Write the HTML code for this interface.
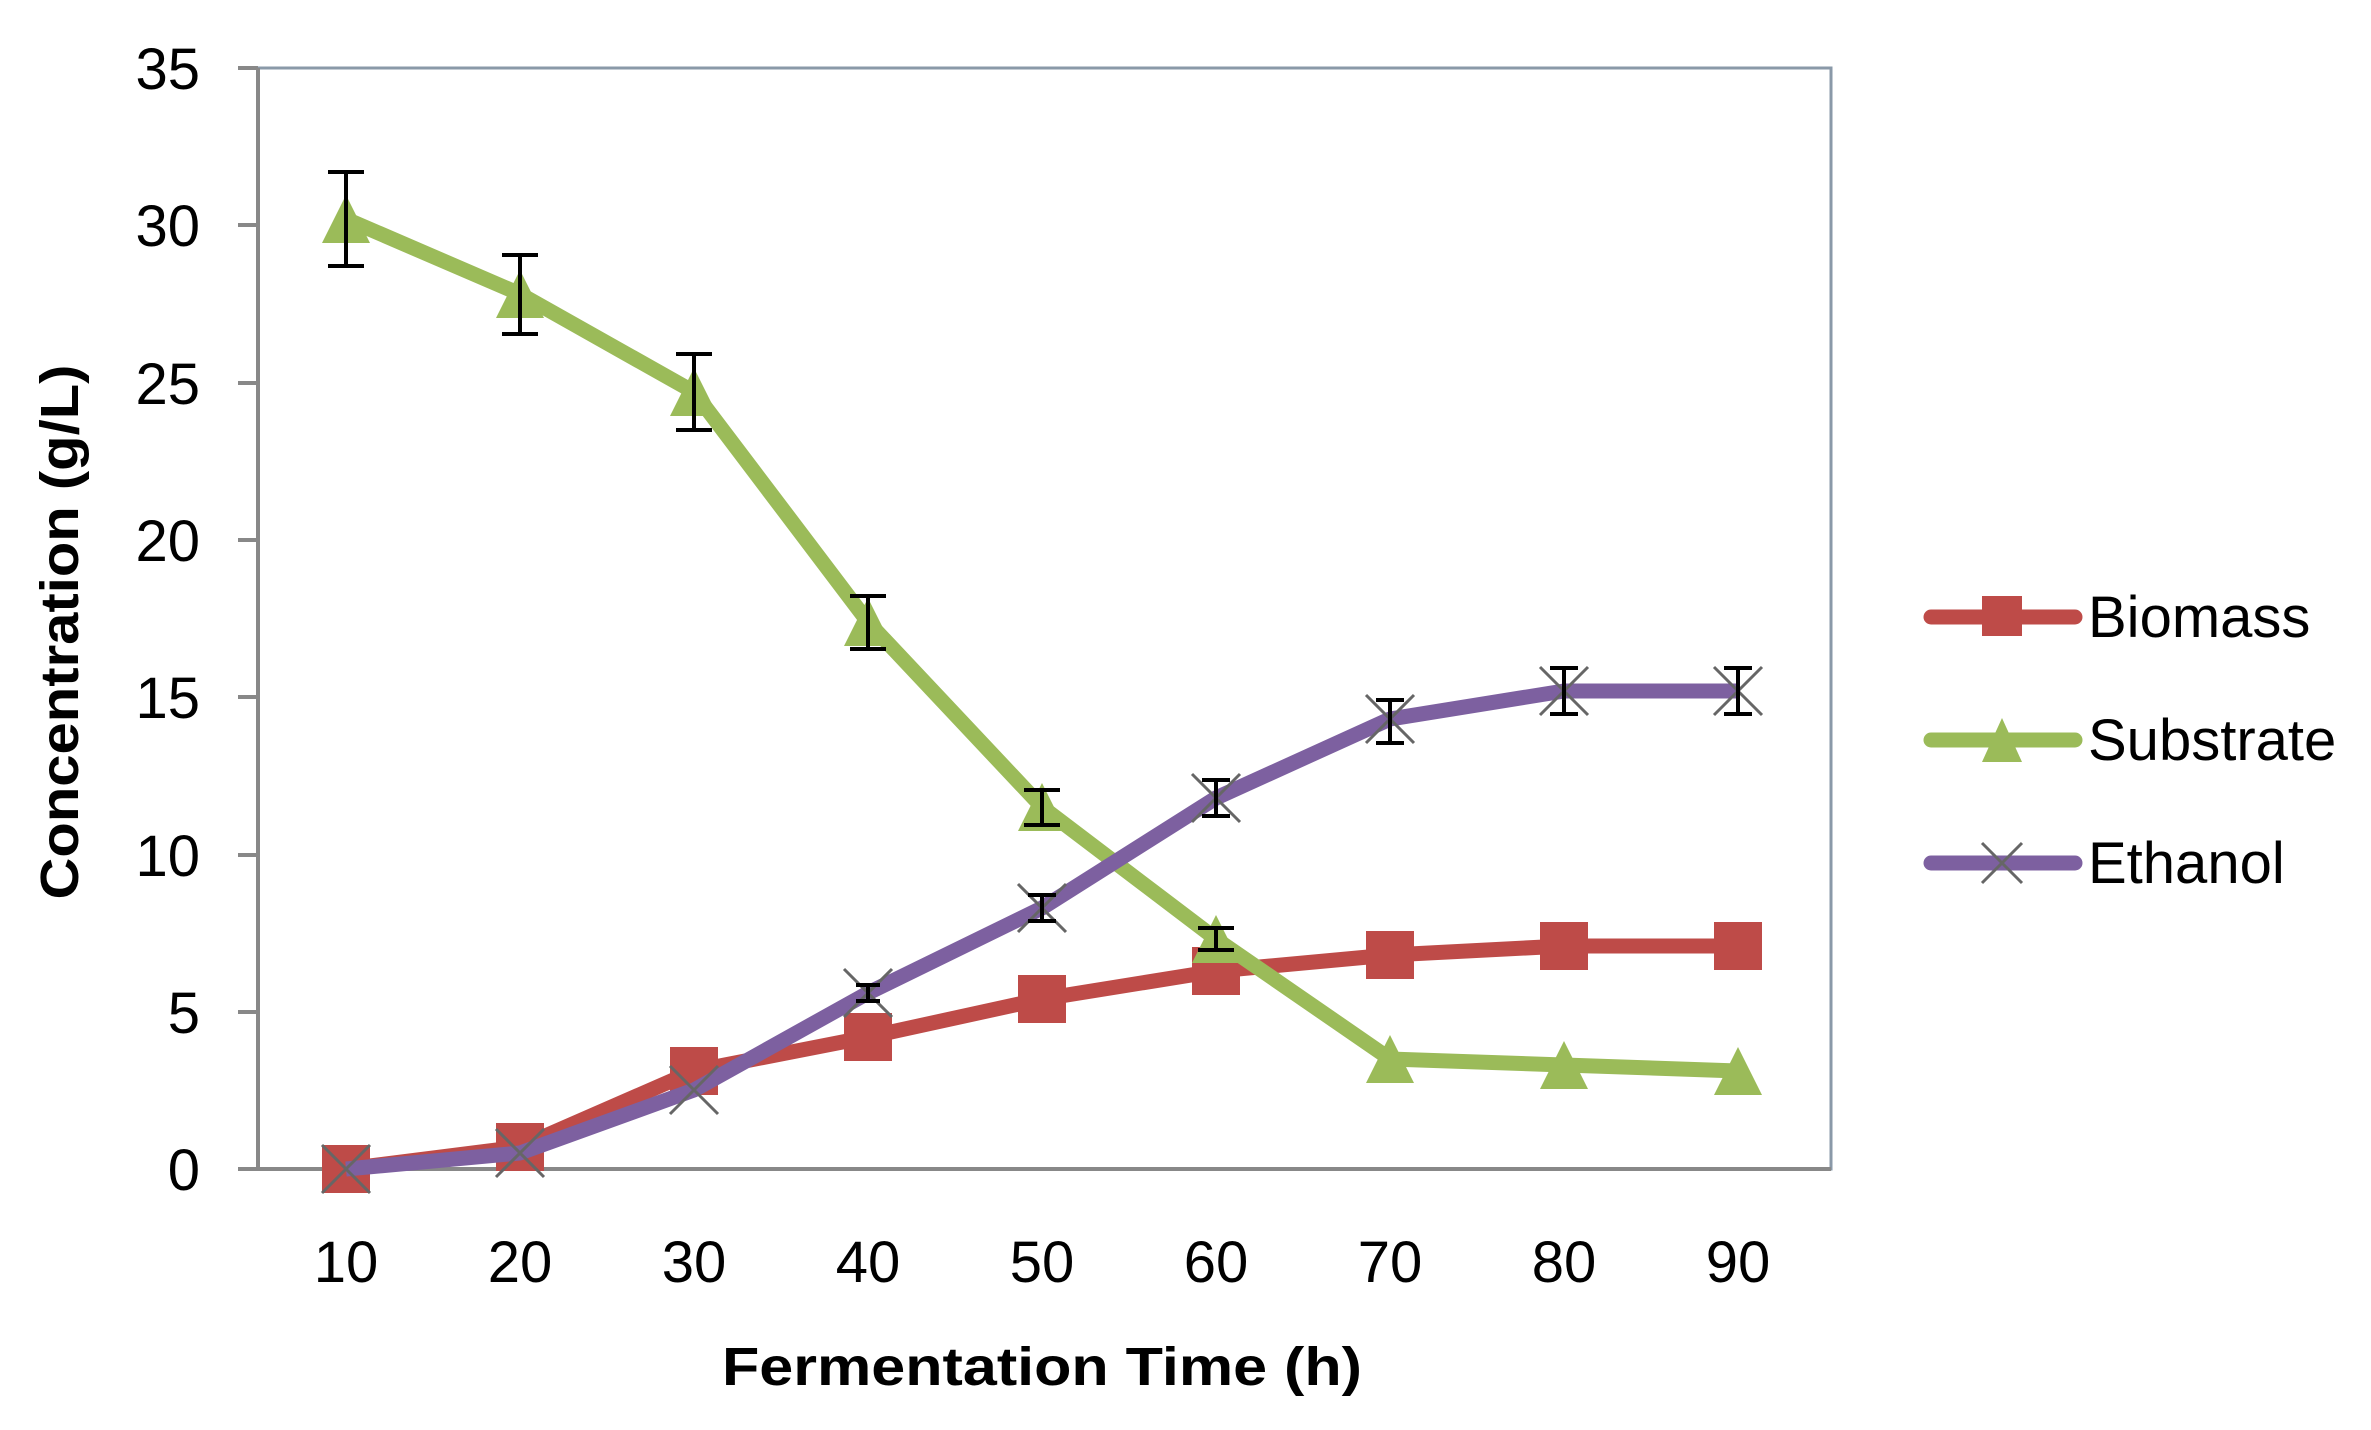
<!DOCTYPE html>
<html><head><meta charset="utf-8"><style>
html,body{margin:0;padding:0;background:#fff;}
svg{display:block;}
text{font-family:"Liberation Sans",sans-serif;fill:#000;}
</style></head><body>
<svg width="2371" height="1430" viewBox="0 0 2371 1430" xmlns="http://www.w3.org/2000/svg">
<rect width="2371" height="1430" fill="#fff"/>
<!-- plot frame -->
<rect x="258" y="68" width="1573" height="1101" fill="none" stroke="#8a99a8" stroke-width="3"/>
<line x1="258" y1="68" x2="258" y2="1169" stroke="#888" stroke-width="4"/>
<line x1="238" y1="1169" x2="1831" y2="1169" stroke="#888" stroke-width="4"/>
<g stroke="#888" stroke-width="4">
<line x1="238" y1="68" x2="258" y2="68"/>
<line x1="238" y1="225" x2="258" y2="225"/>
<line x1="238" y1="383" x2="258" y2="383"/>
<line x1="238" y1="540" x2="258" y2="540"/>
<line x1="238" y1="697" x2="258" y2="697"/>
<line x1="238" y1="855" x2="258" y2="855"/>
<line x1="238" y1="1012" x2="258" y2="1012"/>
</g>
<g font-size="58" text-anchor="end">
<text x="200" y="89">35</text>
<text x="200" y="246">30</text>
<text x="200" y="404">25</text>
<text x="200" y="561">20</text>
<text x="200" y="718">15</text>
<text x="200" y="876">10</text>
<text x="200" y="1033">5</text>
<text x="200" y="1190">0</text>
</g>
<g font-size="58" text-anchor="middle">
<text x="346" y="1282">10</text>
<text x="520" y="1282">20</text>
<text x="694" y="1282">30</text>
<text x="868" y="1282">40</text>
<text x="1042" y="1282">50</text>
<text x="1216" y="1282">60</text>
<text x="1390" y="1282">70</text>
<text x="1564" y="1282">80</text>
<text x="1738" y="1282">90</text>
</g>
<text x="1042" y="1385" font-size="54" font-weight="bold" text-anchor="middle" textLength="640" lengthAdjust="spacingAndGlyphs">Fermentation Time (h)</text>
<text transform="translate(78,632) rotate(-90)" font-size="54" font-weight="bold" text-anchor="middle" textLength="535" lengthAdjust="spacingAndGlyphs">Concentration (g/L)</text>

<!-- Biomass -->
<polyline fill="none" stroke="#be4b48" stroke-width="15" stroke-linejoin="round" points="346,1169 520,1147 694,1071 868,1037 1042,999 1216,971 1390,955 1564,946 1738,946"/>
<g fill="#be4b48">
<rect x="322" y="1145" width="48" height="48"/>
<rect x="496" y="1123" width="48" height="48"/>
<rect x="670" y="1047" width="48" height="48"/>
<rect x="844" y="1013" width="48" height="48"/>
<rect x="1018" y="975" width="48" height="48"/>
<rect x="1192" y="947" width="48" height="48"/>
<rect x="1366" y="931" width="48" height="48"/>
<rect x="1540" y="922" width="48" height="48"/>
<rect x="1714" y="922" width="48" height="48"/>
</g>

<!-- Substrate -->
<polyline fill="none" stroke="#9bbb59" stroke-width="15" stroke-linejoin="round" points="346,219 520,294 694,392 868,622 1042,807 1216,939 1390,1059 1564,1065 1738,1071"/>
<g fill="#9bbb59">
<polygon points="346,195 322,243 370,243"/>
<polygon points="520,270 496,318 544,318"/>
<polygon points="694,368 670,416 718,416"/>
<polygon points="868,598 844,646 892,646"/>
<polygon points="1042,783 1018,831 1066,831"/>
<polygon points="1216,915 1192,963 1240,963"/>
<polygon points="1390,1035 1366,1083 1414,1083"/>
<polygon points="1564,1041 1540,1089 1588,1089"/>
<polygon points="1738,1047 1714,1095 1762,1095"/>
</g>
<g stroke="#000" stroke-width="4" fill="none">
<path d="M346,172V266M328,172H364M328,266H364"/>
<path d="M520,255V334M502,255H538M502,334H538"/>
<path d="M694,354V430M676,354H712M676,430H712"/>
<path d="M868,596V649M850,596H886M850,649H886"/>
<path d="M1042,790V825M1024,790H1060M1024,825H1060"/>
<path d="M1216,928V950M1198,928H1234M1198,950H1234"/>
</g>

<!-- Ethanol -->
<polyline fill="none" stroke="#7d60a0" stroke-width="15" stroke-linejoin="round" points="346,1169 520,1153 694,1090 868,993 1042,908 1216,798 1390,719 1564,691 1738,691"/>
<g stroke="#666" stroke-width="3">
<path d="M322,1145L370,1193M370,1145L322,1193"/>
<path d="M496,1129L544,1177M544,1129L496,1177"/>
<path d="M670,1066L718,1114M718,1066L670,1114"/>
<path d="M844,969L892,1017M892,969L844,1017"/>
<path d="M1018,884L1066,932M1066,884L1018,932"/>
<path d="M1192,774L1240,822M1240,774L1192,822"/>
<path d="M1366,695L1414,743M1414,695L1366,743"/>
<path d="M1540,667L1588,715M1588,667L1540,715"/>
<path d="M1714,667L1762,715M1762,667L1714,715"/>
</g>
<g stroke="#000" stroke-width="4" fill="none">
<path d="M868,985V1001M856,985H880M856,1001H880"/>
<path d="M1042,895V921M1028,895H1056M1028,921H1056"/>
<path d="M1216,780V816M1202,780H1230M1202,816H1230"/>
<path d="M1390,700V743M1376,700H1404M1376,743H1404"/>
<path d="M1564,668V714M1550,668H1578M1550,714H1578"/>
<path d="M1738,668V714M1724,668H1752M1724,714H1752"/>
</g>

<!-- Legend -->
<line x1="1931" y1="617" x2="2075" y2="617" stroke="#be4b48" stroke-width="15" stroke-linecap="round"/>
<rect x="1982" y="596" width="40" height="40" fill="#be4b48"/>
<line x1="1931" y1="740" x2="2075" y2="740" stroke="#9bbb59" stroke-width="15" stroke-linecap="round"/>
<polygon points="2002,718 1982,762 2022,762" fill="#9bbb59"/>
<line x1="1931" y1="863" x2="2075" y2="863" stroke="#7d60a0" stroke-width="15" stroke-linecap="round"/>
<path d="M1982,843L2022,883M2022,843L1982,883" stroke="#666" stroke-width="3"/>
<g font-size="58">
<text x="2088" y="637">Biomass</text>
<text x="2088" y="760">Substrate</text>
<text x="2088" y="883">Ethanol</text>
</g>
</svg>
</body></html>
